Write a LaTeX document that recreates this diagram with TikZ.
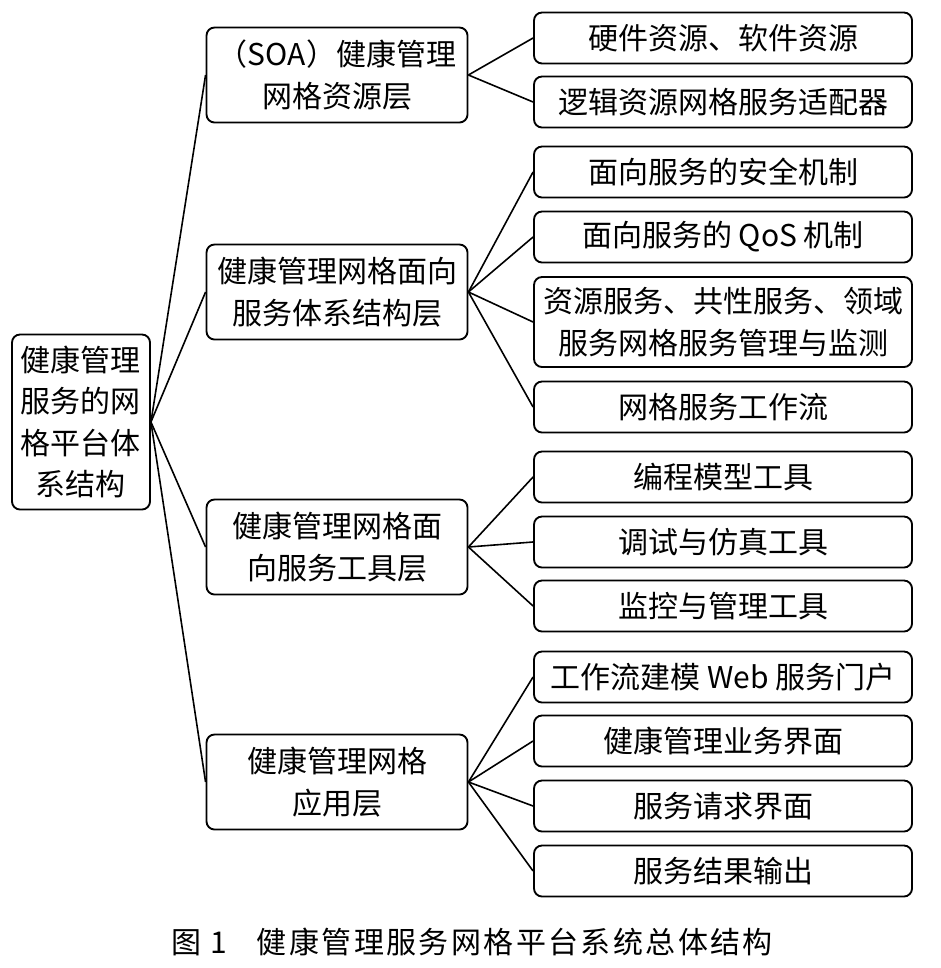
\documentclass[tikz,border=0pt]{standalone}
\usepackage{fontspec}
\setmainfont{Noto Sans CJK SC}
\usetikzlibrary{positioning}
\tikzset{
  box/.style={draw, line width=1.4pt, rounded corners=6pt, align=center, inner sep=0pt,
    font=\fontsize{22.5}{31}\selectfont},
  rootbox/.style={box, minimum width=138*0.75pt, minimum height=175*0.75pt},
  midbox/.style={box, minimum width=261*0.75pt, minimum height=95*0.75pt},
  leafbox/.style={box, minimum width=378*0.75pt, minimum height=51*0.75pt},
  link/.style={line width=1.2pt}
}
\begin{document}
\begin{tikzpicture}[x=0.75pt, y=-0.75pt]
\useasboundingbox (0,0) rectangle (940,968);
\node[rootbox] (root) at (81,422) {健康管理\\服务的网\\格平台体\\系结构};

\node[midbox] (res) at (337,75) {（SOA）健康管理\\网格资源层};
\node[midbox] (soa) at (337,292) {健康管理网格面向\\服务体系结构层};
\node[midbox] (tool) at (337,547) {健康管理网格面\\向服务工具层};
\node[midbox] (app) at (337,782) {健康管理网格\\应用层};

\node[leafbox] (hw) at (723,38) {硬件资源、软件资源};
\node[leafbox] (adapt) at (723,102) {逻辑资源网格服务适配器};
\node[leafbox] (sec) at (723,172) {面向服务的安全机制};
\node[leafbox] (qos) at (723,237) {面向服务的 QoS 机制};
\node[leafbox, minimum height=90*0.75pt] (mon) at (723,322) {资源服务、共性服务、领域\\服务网格服务管理与监测};
\node[leafbox] (flow) at (723,407) {网格服务工作流};
\node[leafbox] (prog) at (723,477) {编程模型工具};
\node[leafbox] (debug) at (723,542) {调试与仿真工具};
\node[leafbox] (ctrl) at (723,606) {监控与管理工具};
\node[leafbox] (portal) at (723,677) {工作流建模 Web 服务门户};
\node[leafbox] (ui) at (723,741) {健康管理业务界面};
\node[leafbox] (req) at (723,806) {服务请求界面};
\node[leafbox] (out) at (723,871) {服务结果输出};

\foreach \m in {res,soa,tool,app}
  \draw[link] (root.east) -- (\m.west);
\foreach \l in {hw,adapt}
  \draw[link] (res.east) -- (\l.west);
\foreach \l in {sec,qos,mon,flow}
  \draw[link] (soa.east) -- (\l.west);
\foreach \l in {prog,debug,ctrl}
  \draw[link] (tool.east) -- (\l.west);
\foreach \l in {portal,ui,req,out}
  \draw[link] (app.east) -- (\l.west);

\node[font=\fontsize{22.5}{26}\selectfont\addfontfeature{LetterSpace=8}] (cap) at (472,942) {图 1\quad 健康管理服务网格平台系统总体结构};
\end{tikzpicture}
\end{document}
